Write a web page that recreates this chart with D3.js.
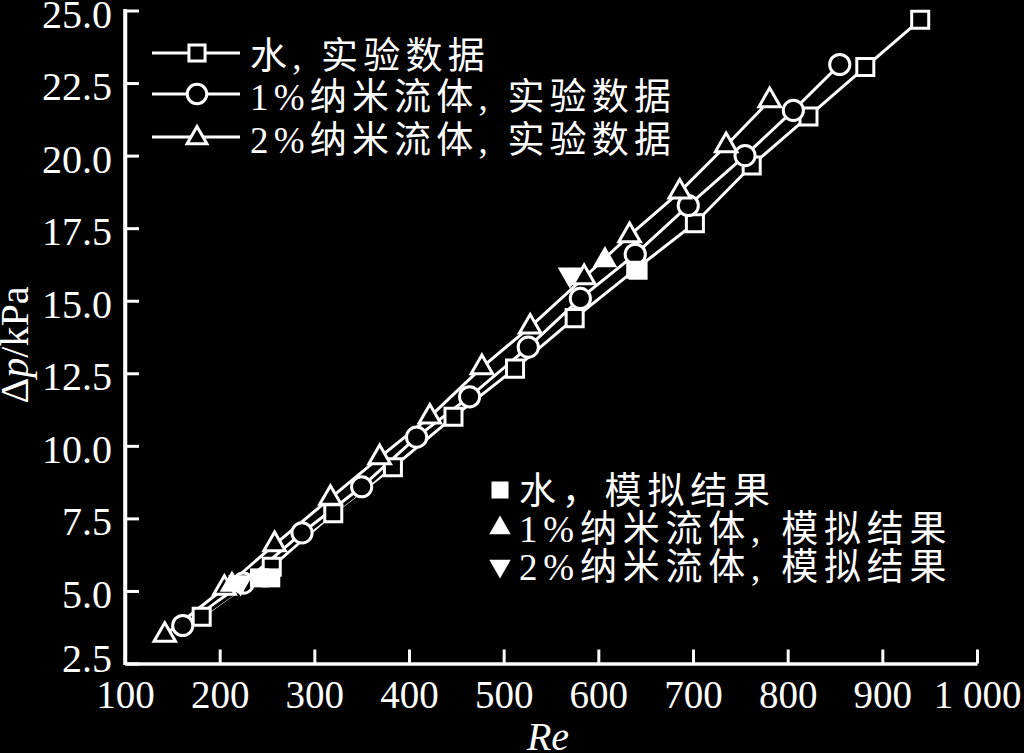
<!DOCTYPE html>
<html><head><meta charset="utf-8">
<script src="https://cdn.jsdelivr.net/npm/d3@7"></script>
<style>
html,body{margin:0;padding:0;background:#000;}
svg{display:block;}
</style></head>
<body>
<svg id="c" width="1024" height="753"></svg>
<script>
// ---- data ----
const waterRe = [181, 255, 320, 383, 447, 512, 575, 640, 702, 762, 822, 882, 940];
const waterDp = [4.11, 5.83, 7.68, 9.26, 11.0, 12.66, 14.4, 16.1, 17.67, 19.66, 21.35, 23.05, 24.68];
const nf1Re = [161, 225, 287, 350, 408, 464, 526, 581, 639, 695, 755, 806, 855];
const nf1Dp = [3.81, 5.27, 7.0, 8.59, 10.3, 11.69, 13.4, 15.08, 16.6, 18.28, 20.0, 21.56, 23.14];
const nf2Re = [142, 205, 258, 317, 369, 422, 477, 528, 585, 633, 686, 735, 781];
const nf2Dp = [3.48, 5.1, 6.6, 8.2, 9.6, 11.0, 12.7, 14.1, 15.8, 17.25, 18.75, 20.35, 21.9];
const waterSimRe = [242, 254, 642];
const waterSimDp = [5.45, 5.45, 16.05];
const nf1SimRe = [213, 607];
const nf1SimDp = [5.22, 16.4];
const nf2SimRe = [222, 570];
const nf2SimDp = [5.3, 15.9];
const xTicks = [100, 200, 300, 400, 500, 600, 700, 800, 900, 1000];
const xTickLabels = ["100","200","300","400","500","600","700","800","900","1 000"];
const yTicks = [2.5, 5, 7.5, 10, 12.5, 15, 17.5, 20, 22.5, 25];
const yTickLabels = ["2.5","5.0","7.5","10.0","12.5","15.0","17.5","20.0","22.5","25.0"];
const expLegend = ["水, 实验数据", "1%纳米流体, 实验数据", "2%纳米流体, 实验数据"];
const simLegend = ["水，模拟结果", "1%纳米流体, 模拟结果", "2%纳米流体, 模拟结果"];

// ---- chart ----
const svg = d3.select("#c");
svg.append("rect").attr("width",1024).attr("height",753).attr("fill","#000");
const x = d3.scaleLinear().domain([100,1000]).range([125,977]);
const y = d3.scaleLinear().domain([2.5,25]).range([663.5,10.5]);
const W = "#fff";
const serif = "'Liberation Serif','Times New Roman',serif";
const cjk = "'Liberation Serif','Noto Sans CJK SC',serif";

// axes
const gx = svg.append("g").attr("transform","translate(0,663.5)")
  .call(d3.axisBottom(x).tickValues(xTicks).tickSize(-14).tickSizeOuter(0).tickFormat((d,i)=>xTickLabels[i]).tickPadding(30));
const gy = svg.append("g").attr("transform","translate(125,0)")
  .call(d3.axisLeft(y).tickValues(yTicks).tickSize(-14).tickSizeOuter(0).tickFormat((d,i)=>yTickLabels[i]).tickPadding(13));
[gx,gy].forEach(g=>{
  g.attr("font-family",serif);
  g.select(".domain").attr("stroke",W).attr("stroke-width",3.5);
  g.selectAll(".tick line").attr("stroke",W).attr("stroke-width",3);
  g.selectAll(".tick text").attr("fill",W).attr("font-family",serif).attr("font-size",40);
});
gx.selectAll(".tick text").attr("dy","14.5px").attr("font-size",39);
gy.selectAll(".tick text").attr("dy",(d)=> d===2.5 ? "8px" : "16.5px");
svg.append("line").attr("x1",125).attr("x2",125).attr("y1",y(25)-1.5).attr("y2",y(2.5)+1.5).attr("stroke",W).attr("stroke-width",3.5);

// axis titles
const yl = svg.append("text").attr("transform","translate(28,345) rotate(-90)")
  .attr("text-anchor","middle").attr("fill",W).attr("font-family",serif).attr("font-size",40);
yl.append("tspan").text("Δ");
yl.append("tspan").attr("font-style","italic").text("p");
yl.append("tspan").text("/kPa");
svg.append("text").attr("x",548).attr("y",750).attr("text-anchor","middle").attr("fill",W)
  .attr("font-family",serif).attr("font-size",40).attr("font-style","italic").text("Re");

// series
const series = [
  {re: waterRe, dp: waterDp, sym: d3.symbolSquare, size: 290, rot: 0},
  {re: nf1Re, dp: nf1Dp, sym: d3.symbolCircle, size: 320, rot: 0},
  {re: nf2Re, dp: nf2Dp, sym: d3.symbolTriangle, size: 200, rot: 0},
];
const line = d3.line().x(d=>x(d[0])).y(d=>y(d[1]));
series.forEach(s=>{
  const pts = s.re.map((r,i)=>[r, s.dp[i]]);
  svg.append("path").attr("d",line(pts)).attr("fill","none").attr("stroke","#000").attr("stroke-width",9);
  svg.append("path").attr("d",line(pts)).attr("fill","none").attr("stroke",W).attr("stroke-width",3);
});
series.forEach(s=>{
  svg.append("g").selectAll("path").data(s.re.map((r,i)=>[r, s.dp[i]])).join("path")
    .attr("d", d3.symbol(s.sym, s.size)())
    .attr("transform", d=>`translate(${x(d[0])},${y(d[1])})`)
    .attr("fill","#000").attr("stroke",W).attr("stroke-width",3);
});
// simulation markers
const sims = [
  {re: waterSimRe, dp: waterSimDp, sym: d3.symbolSquare, size: 360, rot: 0},
  {re: nf1SimRe, dp: nf1SimDp, sym: d3.symbolTriangle, size: 260, rot: 0},
  {re: nf2SimRe, dp: nf2SimDp, sym: d3.symbolTriangle, size: 260, rot: 180},
];
sims.forEach(s=>{
  svg.append("g").selectAll("path").data(s.re.map((r,i)=>[r, s.dp[i]])).join("path")
    .attr("d", d3.symbol(s.sym, s.size)())
    .attr("transform", d=>`translate(${x(d[0])},${y(d[1])}) rotate(${s.rot})`)
    .attr("fill",W);
});

// legend 1
const lg1Y = [53, 94, 137];
const lg1TextY = [56, 97, 140];
expLegend.forEach((t,i)=>{
  const s = series[i];
  svg.append("line").attr("x1",152).attr("x2",240).attr("y1",lg1Y[i]).attr("y2",lg1Y[i]).attr("stroke",W).attr("stroke-width",3);
  svg.append("path").attr("d", d3.symbol(s.sym, i===2?170:(i===0?260:300))())
    .attr("transform",`translate(197,${lg1Y[i]+(i===2?1:0)})`).attr("fill","#000").attr("stroke",W).attr("stroke-width",3);
  svg.append("text").attr("x",250).attr("y",lg1TextY[i]).attr("dominant-baseline","central")
    .attr("fill",W).attr("font-family",cjk).attr("font-size",37).attr("letter-spacing",5.2).text(t);
});
// legend 2
const lg2Y = [490, 528, 566];
simLegend.forEach((t,i)=>{
  const s = sims[i];
  svg.append("path").attr("d", d3.symbol(s.sym, i===0?290:200)())
    .attr("transform",`translate(500,${lg2Y[i]}) rotate(${s.rot})`).attr("fill",W);
  svg.append("text").attr("x",519).attr("y",lg2Y[i]+1).attr("dominant-baseline","central")
    .attr("fill",W).attr("font-family",cjk).attr("font-size",37).attr("letter-spacing",5.8).text(t);
});
</script>
</body></html>
